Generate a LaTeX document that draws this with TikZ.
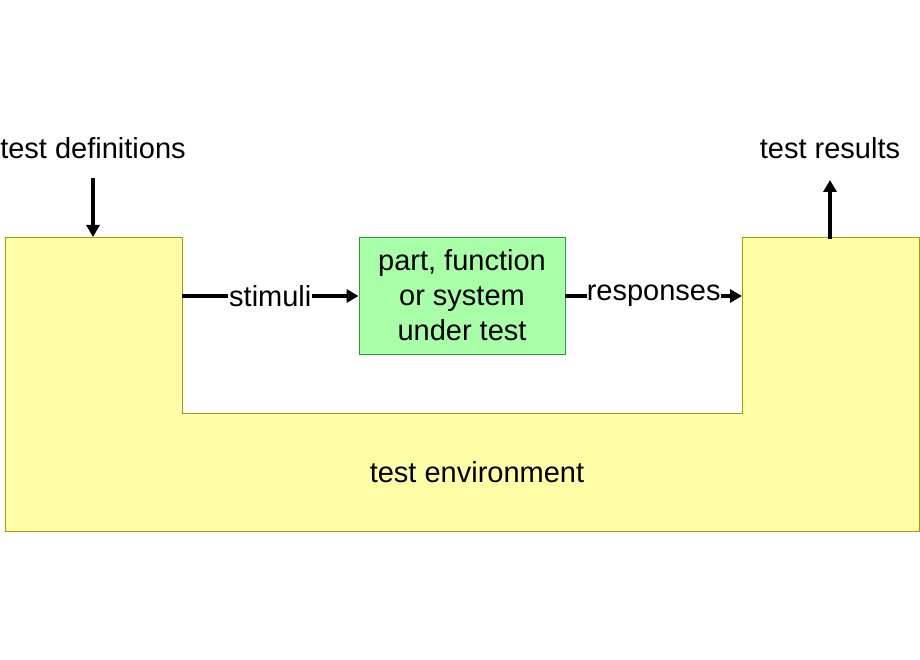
\documentclass[tikz,border=0pt]{standalone}
\usepackage{fontspec}
\setmainfont{Liberation Sans}
\usetikzlibrary{arrows.meta}
\begin{document}
\begin{tikzpicture}[x=1pt,y=-1pt,
  lbl/.style={font=\fontsize{29}{35}\selectfont, inner sep=0pt},
  arr/.style={line width=3.5pt,-{Triangle[length=12pt,width=13pt]}},
  env/.style={fill=yellowfill, draw=olivedraw, line width=0.8pt}]
\definecolor{yellowfill}{HTML}{FFFFA8}
\definecolor{olivedraw}{HTML}{A0A000}
\definecolor{greenfill}{HTML}{A8FFA8}
\definecolor{greendraw}{HTML}{339933}
\useasboundingbox (0,0) rectangle (920,660);
\draw[env] (5,237) -- (182,237) -- (182,413) -- (742,413) -- (742,237) -- (919,237) -- (919,531) -- (5,531) -- cycle;
\node[lbl] (envtxt) at (477,472) {test environment};
\node[draw=greendraw, fill=greenfill, line width=0.8pt, minimum width=206pt, minimum height=117pt, align=center, font=\fontsize{29}{35}\selectfont] (sut) at (462,295.5) {part, function\\or system\\under test};
\coordinate (stimL) at (182,296);
\coordinate (respR) at (742,296);
\node[lbl] (defs) at (93,148) {test definitions};
\node[lbl] (res) at (830,148) {test results};
\coordinate (defsEnd) at (93,237);
\coordinate (defsStart) at (93,178);
\coordinate (resStart) at (830,239);
\coordinate (resEnd) at (830,180);
\draw[arr] (defsStart) -- (defsEnd);
\draw[arr] (resStart) -- (resEnd);
\draw[arr] (stimL) -- (sut.west |- stimL) node[lbl, pos=0.5, fill=white, inner xsep=1pt] (stim) {stimuli};
\draw[arr] (sut.east |- respR) -- (respR) node[lbl, pos=0.5, fill=white, inner xsep=0pt] (resp) {responses};
\end{tikzpicture}
\end{document}
